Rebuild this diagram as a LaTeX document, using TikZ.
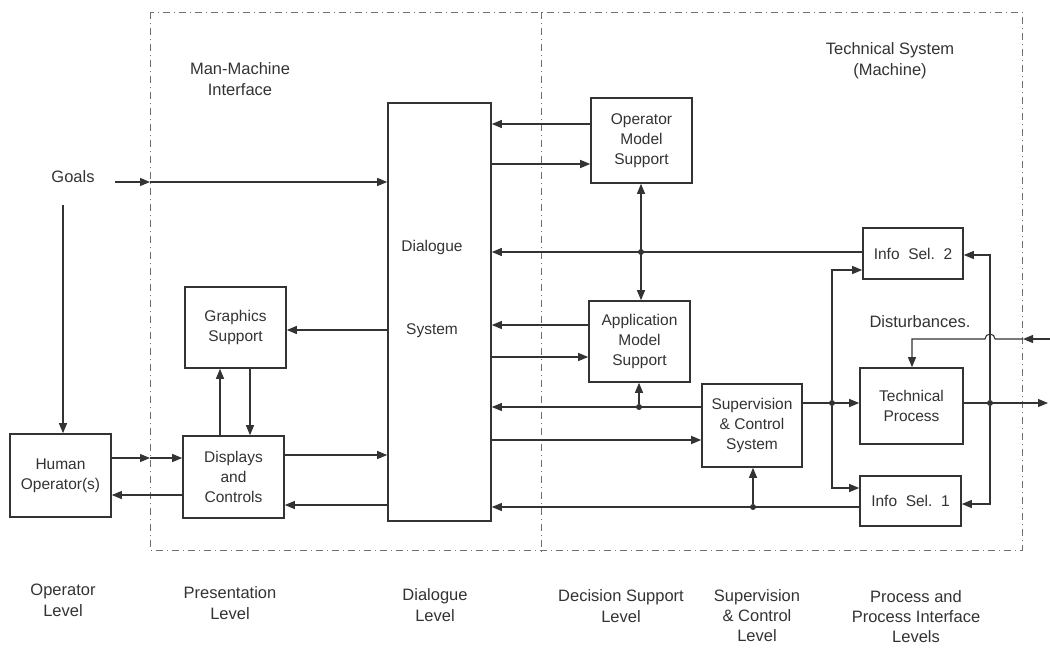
\documentclass[tikz,border=0pt]{standalone}
\usepackage{fontspec}
\setmainfont{Liberation Sans}
\usetikzlibrary{arrows.meta}
\definecolor{ink}{HTML}{333333}
\newcommand\bxfont{\fontsize{15.5}{20}\selectfont}
\newcommand\lbfont{\fontsize{16.5}{21}\selectfont}
\newcommand\lbfontb{\fontsize{16.5}{20}\selectfont}
\begin{document}
\begin{tikzpicture}[x=1pt,y=-1pt,
  box/.style={draw=ink,line width=1.6pt,fill=white,inner sep=2pt,align=center,font=\bxfont,text=ink},
  arr/.style={draw=ink,line width=1.1pt,-{Triangle[length=10pt,width=8pt]}},
  arrb/.style={draw=ink,line width=1.1pt,{Triangle[length=10pt,width=8pt]}-{Triangle[length=10pt,width=8pt]}},
  ln/.style={draw=ink,line width=1.1pt},
  lbl/.style={text=ink,align=center,font=\lbfont},
  frame/.style={draw=ink!70,line width=0.7pt,dash pattern=on 7pt off 4pt on 1pt off 4pt},
  dot/.style={circle,fill=ink,inner sep=0pt,minimum size=6pt}]
\useasboundingbox (0,0) rectangle (1050,648);

% frames
\draw[frame] (150,12) rectangle (1022,550);
\draw[frame] (541,12) -- (541,555);

% boxes
\node[box,minimum width=101pt,minimum height=83pt] (hum) at (60.5,475.5) {Human\\Operator(s)};
\node[box,minimum width=101pt,minimum height=82pt] (disp) at (233.5,477) {Displays\\and\\Controls};
\node[box,minimum width=101pt,minimum height=81pt] (gfx) at (235.5,327.5) {Graphics\\Support};
\node[box,minimum width=103pt,minimum height=418pt] (dia) at (439.5,312) {};
\node[lbl,font=\bxfont] (dia1) at (432,247) {Dialogue};
\node[lbl,font=\bxfont] (dia2) at (432,331) {System};
\node[box,minimum width=101pt,minimum height=85pt] (oms) at (641.5,140.5) {Operator\\Model\\Support};
\node[box,minimum width=101pt,minimum height=81pt] (ams) at (639.5,341.5) {Application\\Model\\Support};
\node[box,minimum width=100pt,minimum height=83pt] (scs) at (752,425.5) {Supervision\\\& Control\\System};
\node[box,minimum width=100pt,minimum height=51pt] (is2) at (913,253.5) {Info\ \ Sel.\ \ 2};
\node[box,minimum width=103pt,minimum height=76pt] (tp) at (911.5,406) {Technical\\Process};
\node[box,minimum width=101pt,minimum height=50pt] (is1) at (910.5,501) {Info\ \ Sel.\ \ 1};

% labels
\node[lbl] (goals) at (73,177) {Goals};
\node[lbl] (mmi) at (240,79) {Man-Machine\\Interface};
\node[lbl] (tsm) at (890,61) {Technical System\\(Machine)};
\node[lbl] (dist) at (920,322) {Disturbances.};
\node[lbl] (l1) at (63,600) {Operator\\Level};
\node[lbl] (l2) at (230,603) {Presentation\\Level};
\node[lbl] (l3) at (435,605) {Dialogue\\Level};
\node[lbl] (l4) at (621,606) {Decision Support\\Level};
\node[lbl,font=\lbfontb] (l5) at (757,616) {Supervision\\\& Control\\Level};
\node[lbl,font=\lbfontb] (l6) at (916,617) {Process and\\Process Interface\\Levels};

% junction dots
\node[dot] (j1) at (641,252) {};
\node[dot] (j2) at (639,407) {};
\node[dot] (j3) at (832,403) {};
\node[dot] (j4) at (990,403) {};
\node[dot] (j5) at (753,507) {};

% free ends
\coordinate (g1) at (115,182);
\coordinate (gm) at (150,182);
\coordinate (gv) at (63,205);
\coordinate (hm) at (150,458);
\coordinate (d0) at (1050,339);
\coordinate (d1) at (1023,339);
\coordinate (out) at (1048,403);

% left connectors
\draw[arr] (g1) -- (gm);
\draw[arr] (gm) -- (dia.west|-gm);
\draw[arr] (gv) -- (gv|-hum.north);
\draw[arr] (hum.east|-hm) -- (hm);
\draw[arr] (hm) -- (disp.west|-hm);
\draw[arr] (disp.west|-0,495) -- (hum.east|-0,495);
\draw[arr] (disp.north-|220,0) -- (gfx.south-|220,0);
\draw[arr] (gfx.south-|250,0) -- (disp.north-|250,0);
\draw[arr] (dia.west|-0,330) -- (gfx.east|-0,330);
\draw[arr] (disp.east|-0,455) -- (dia.west|-0,455);
\draw[arr] (dia.west|-0,505) -- (disp.east|-0,505);

% decision support connectors
\draw[arr] (oms.west|-0,124) -- (dia.east|-0,124);
\draw[arr] (dia.east|-0,164) -- (oms.west|-0,164);
\draw[arrb] (oms.south-|j1) -- (ams.north-|j1);
\draw[arr] (is2.west|-j1) -- (dia.east|-j1);
\draw[arr] (ams.west|-0,325) -- (dia.east|-0,325);
\draw[arr] (dia.east|-0,357) -- (ams.west|-0,357);
\draw[arr] (scs.west|-j2) -- (dia.east|-j2);
\draw[arr] (j2) -- (ams.south-|j2);
\draw[arr] (dia.east|-0,440) -- (scs.west|-0,440);
\draw[arr] (is1.west|-j5) -- (dia.east|-j5);
\draw[arr] (j5) -- (scs.south-|j5);

% process connectors
\draw[arr] (scs.east|-j3) -- (tp.west|-j3);
\draw[arr] (j3) |- (is2.west|-0,270);
\draw[arr] (j3) |- (is1.west|-0,488);
\draw[arr] (tp.east|-j4) -- (out);
\draw[arr] (j4) |- (is2.east|-0,255);
\draw[arr] (j4) |- (is1.east|-0,504);
\draw[arr] (d0) -- (d1);
\draw[arr] (d1) -- (995,339) arc (0:-180:5) -- (912,339) -- (tp.north-|912,339);
\end{tikzpicture}
\end{document}
